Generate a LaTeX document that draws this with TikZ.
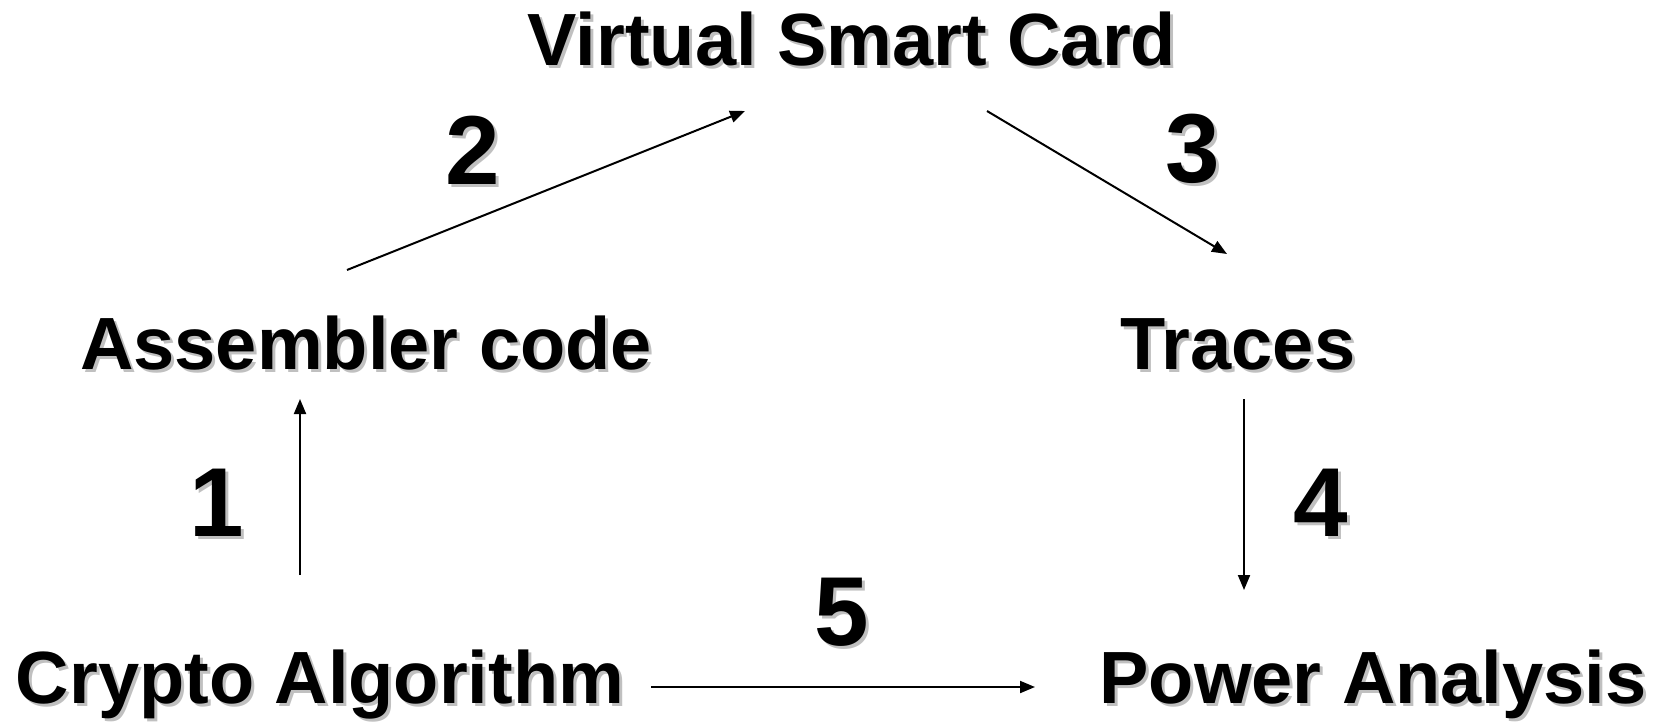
\documentclass[tikz,border=0pt]{standalone}
\usepackage{fontspec}
\setmainfont{Liberation Sans}
\usepackage{xcolor}
\usetikzlibrary{arrows.meta}
\definecolor{shadowGray}{RGB}{192,192,192}
% bold text with a soft gray drop shadow
\newcommand{\shtext}[1]{\makebox[0pt][l]{\hspace{3pt}\raisebox{-3pt}{\textcolor{shadowGray}{#1}}}#1}
\tikzset{
  label/.style={anchor=base, inner sep=0pt, font=\fontsize{74}{80}\selectfont\bfseries},
  steplabel/.style={anchor=base, inner sep=0pt, font=\fontsize{98}{100}\selectfont\bfseries},
  flow/.style={line width=2pt, -{Triangle[length=15pt,width=12pt]}}
}

\begin{document}
\begin{tikzpicture}[x=1pt, y=-1pt]
\useasboundingbox (0,0) rectangle (1661,721);

\node[label] (vsc) at (852,65) {\shtext{Virtual Smart Card}};
\node[label] (asm) at (366,369) {\shtext{Assembler code}};
\node[label] (traces) at (1238,369) {\shtext{Traces}};
\node[label] (crypto) at (320,703) {\shtext{Crypto Algorithm}};
\node[label] (power) at (1373,703) {\shtext{Power Analysis}};

\node[steplabel] (n1) at (217,536) {\shtext{1}};
\node[steplabel] (n2) at (473,184) {\shtext{2}};
\node[steplabel] (n3) at (1193,182) {\shtext{3}};
\node[steplabel] (n4) at (1321,536) {\shtext{4}};
\node[steplabel] (n5) at (842,645) {\shtext{5}};

% arrow ends
\coordinate (crypto-up) at (300,575);
\coordinate (asm-in) at (300,399);
\coordinate (asm-out) at (347,270);
\coordinate (vsc-in) at (745,111);
\coordinate (vsc-out) at (987,111);
\coordinate (traces-in) at (1227,254);
\coordinate (traces-out) at (1244,399);
\coordinate (power-in) at (1244,590);
\coordinate (crypto-right) at (651,687);
\coordinate (power-left) at (1035,687);

\draw[flow] (crypto-up) -- (asm-in);
\draw[flow] (asm-out) -- (vsc-in);
\draw[flow] (vsc-out) -- (traces-in);
\draw[flow] (traces-out) -- (power-in);
\draw[flow] (crypto-right) -- (power-left);
\end{tikzpicture}
\end{document}
